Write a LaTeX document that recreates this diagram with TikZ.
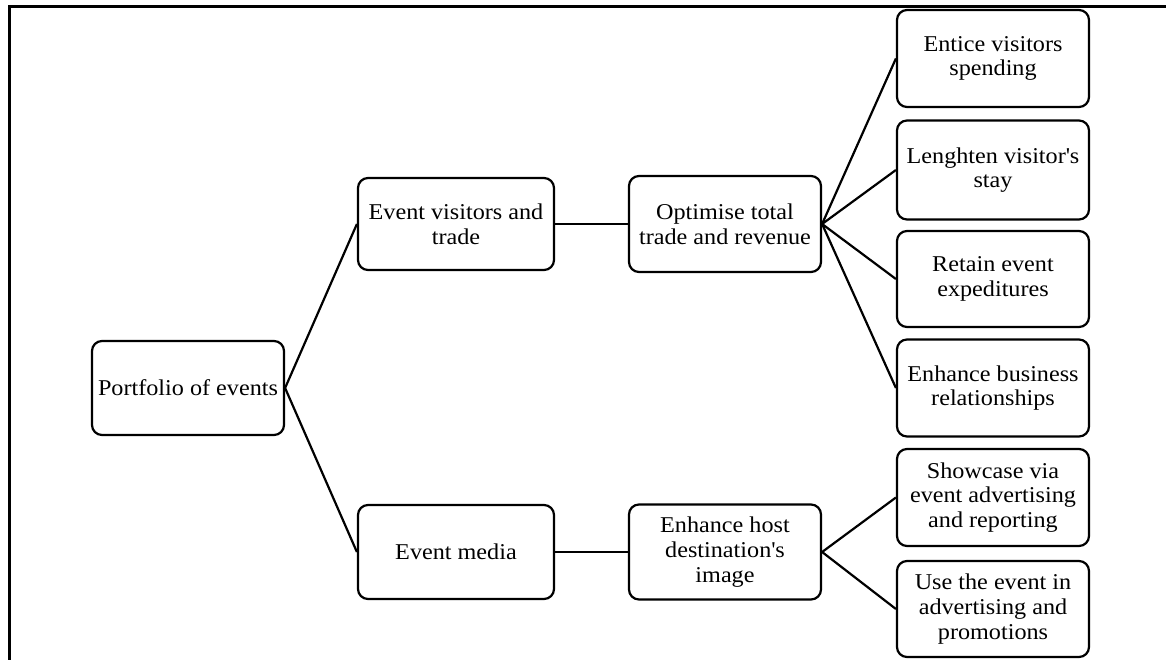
\documentclass[tikz,border=0pt]{standalone}
\usepackage{fontspec}
\setmainfont{Liberation Serif}[FakeStretch=1.07]
\begin{document}
\begin{tikzpicture}[x=1pt,y=-1pt,
  box/.style={draw=black, line width=2.2pt, rounded corners=10pt, align=center,
    inner sep=2pt, font=\fontsize{22.6}{24.6}\selectfont},
  link/.style={draw=black, line width=2.2pt},
  frame/.style={draw=black, line width=3pt}]
\useasboundingbox (0,0) rectangle (1166,660);
\draw[frame] (9,670) -- (9,7) -- (1170,7);
\node[box, minimum width=192pt, minimum height=94pt] (P) at (188,388) {Portfolio of events};
\node[box, minimum width=196pt, minimum height=92pt] (EV) at (456,224) {Event visitors and\\trade};
\node[box, minimum width=196pt, minimum height=94pt] (EM) at (456,552) {Event media};
\node[box, minimum width=192pt, minimum height=96pt] (OT) at (725,224) {Optimise total\\trade and revenue};
\node[box, minimum width=192pt, minimum height=95pt] (EH) at (725,552) {Enhance host\\destination\textquotesingle s\\image};
\node[box, minimum width=192pt, minimum height=97pt] (R1) at (993,58.5) {Entice visitors\\spending};
\node[box, minimum width=192pt, minimum height=99pt] (R2) at (993,170) {Lenghten visitor\textquotesingle s\\stay};
\node[box, minimum width=192pt, minimum height=96pt] (R3) at (993,279) {Retain event\\expeditures};
\node[box, minimum width=192pt, minimum height=97pt] (R4) at (993,388) {Enhance business\\relationships};
\node[box, minimum width=192pt, minimum height=97pt] (R5) at (993,497.5) {Showcase via\\event advertising\\and reporting};
\node[box, minimum width=192pt, minimum height=96pt] (R6) at (993,609) {Use the event in\\advertising and\\promotions};
\draw[link] (P.east) -- (EV.west);
\draw[link] (P.east) -- (EM.west);
\draw[link] (EV.east) -- (OT.west);
\draw[link] (EM.east) -- (EH.west);
\foreach \r in {R1,R2,R3,R4} \draw[link] (OT.east) -- (\r.west);
\foreach \r in {R5,R6} \draw[link] (EH.east) -- (\r.west);
\end{tikzpicture}
\end{document}
